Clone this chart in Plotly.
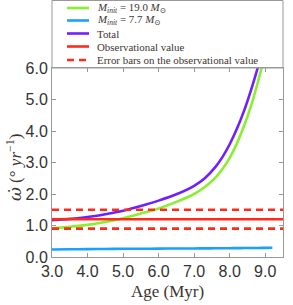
import plotly.graph_objects as go

# Data
age = [3.0, 3.5, 4.0, 4.5, 5.0, 5.5, 6.0, 6.5, 7.0, 7.3, 7.6, 7.8, 8.0, 8.2, 8.4, 8.6, 8.8, 9.0, 9.2]
omega_19 = [0.91, 0.96, 1.02, 1.11, 1.23, 1.38, 1.54, 1.75, 2.0, 2.22, 2.52, 2.8, 3.15, 3.6, 4.15, 4.8, 5.58, 6.45, 7.4]
omega_77 = [0.24, 0.245, 0.25, 0.255, 0.26, 0.262, 0.265, 0.27, 0.272, 0.274, 0.276, 0.278, 0.28, 0.282, 0.284, 0.286, 0.288, 0.29, 0.292]
omega_tot = [1.17, 1.21, 1.27, 1.36, 1.47, 1.62, 1.79, 1.99, 2.26, 2.5, 2.86, 3.18, 3.58, 4.06, 4.63, 5.3, 6.05, 6.9, 7.85]
obs_value = 1.2
obs_err = 0.3
x_range = [3.0, 9.5]
y_range = [0.0, 6.0]
x_ticks = [3.0, 4.0, 5.0, 6.0, 7.0, 8.0, 9.0]
y_ticks = [0.0, 1.0, 2.0, 3.0, 4.0, 5.0, 6.0]
legend_labels = [
    "<i>M</i><sub><i>init</i></sub> = 19.0 <i>M</i><sub>⊙</sub>",
    "<i>M</i><sub><i>init</i></sub> = 7.7 <i>M</i><sub>⊙</sub>",
    "Total",
    "Observational value",
    "Error bars on the observational value",
]

GREEN = "#88F030"
BLUE = "#1AA0FF"
PURPLE = "#7020FF"
RED = "#FF2A1A"
TXT = "#3d3530"
SERIF = "Liberation Serif, DejaVu Serif, serif"
SANS = "Liberation Sans, Arial, sans-serif"

# layout geometry (px)
W, H = 293, 305
L, R, T, B = 52, 10, 68, 48
PH = H - T - B
PW = W - L - R

def py(ypx):
    return (H - B - ypx) / PH

def px(xpx):
    return (xpx - L) / PW

LW = 2.6
fig = go.Figure()
fig.add_trace(go.Scatter(x=age, y=omega_19, mode="lines", line=dict(color=GREEN, width=LW, shape="spline", smoothing=0.6),
                         name=legend_labels[0], showlegend=False))
fig.add_trace(go.Scatter(x=age, y=omega_77, mode="lines", line=dict(color=BLUE, width=LW, shape="spline", smoothing=0.6),
                         name=legend_labels[1], showlegend=False))
fig.add_trace(go.Scatter(x=age, y=omega_tot, mode="lines", line=dict(color=PURPLE, width=LW, shape="spline", smoothing=0.6),
                         name=legend_labels[2], showlegend=False))
fig.add_trace(go.Scatter(x=x_range, y=[obs_value, obs_value], mode="lines", line=dict(color=RED, width=LW),
                         name=legend_labels[3], showlegend=False))
fig.add_trace(go.Scatter(x=x_range, y=[obs_value + obs_err] * 2, mode="lines",
                         line=dict(color=RED, width=LW, dash="7px,5px"),
                         name=legend_labels[4], showlegend=False))
fig.add_trace(go.Scatter(x=x_range, y=[obs_value - obs_err] * 2, mode="lines",
                         line=dict(color=RED, width=LW, dash="7px,5px"),
                         showlegend=False))

axis_common = dict(showline=True, linecolor="#999", linewidth=1, mirror="ticks",
                   ticks="inside", ticklen=4, tickcolor="#999", showgrid=False, zeroline=False,
                   automargin=False,
                   tickfont=dict(family=SANS, size=16, color="#333"))

fig.update_xaxes(range=x_range, tickvals=x_ticks, ticktext=[f"{v:.1f}" for v in x_ticks], **axis_common)
fig.update_yaxes(range=y_range, tickvals=y_ticks, ticktext=[f"{v:.1f}" for v in y_ticks], **axis_common)

annotations = [
    dict(text="Age (Myr)", xref="paper", yref="paper", x=0.5, y=py(291), xanchor="center", yanchor="middle",
         showarrow=False, font=dict(family=SERIF, size=17, color=TXT)),
    dict(text="<span style='font-family:DejaVu Serif'><i>ω̇</i></span> (° <i>yr</i><sup>−1</sup>)",
         xref="paper", yref="paper", x=px(14), y=py(168),
         xanchor="center", yanchor="middle", textangle=-90,
         showarrow=False, font=dict(family=SERIF, size=17, color=TXT)),
]

# manual legend box above the plot
row_y = [8, 20.5, 33.5, 46.5, 60]
colors = [GREEN, BLUE, PURPLE, RED, RED]
dashes = ["solid", "solid", "solid", "solid", "7px,5px"]
shapes = [dict(type="rect", xref="paper", yref="paper", x0=0, x1=1, y0=1, y1=py(0.5),
               line=dict(color="#999", width=1), fillcolor="rgba(0,0,0,0)", layer="above")]
for lbl, ry, c, d in zip(legend_labels, row_y, colors, dashes):
    shapes.append(dict(type="line", xref="paper", yref="paper", x0=px(67), x1=px(89), y0=py(ry), y1=py(ry),
                       line=dict(color=c, width=LW, dash=d)))
    annotations.append(dict(text=lbl, xref="paper", yref="paper", x=px(95), y=py(ry), xanchor="left",
                            yanchor="middle", showarrow=False,
                            font=dict(family=SERIF, size=10.9, color=TXT)))

fig.update_layout(
    width=W, height=H,
    margin=dict(l=L, r=R, t=T, b=B),
    paper_bgcolor="white", plot_bgcolor="white",
    showlegend=False,
    shapes=shapes,
    annotations=annotations,
)

fig.write_html("out.html", config={"displayModeBar": False},
               post_script="document.body.style.margin='0';document.body.style.overflow='hidden';")
